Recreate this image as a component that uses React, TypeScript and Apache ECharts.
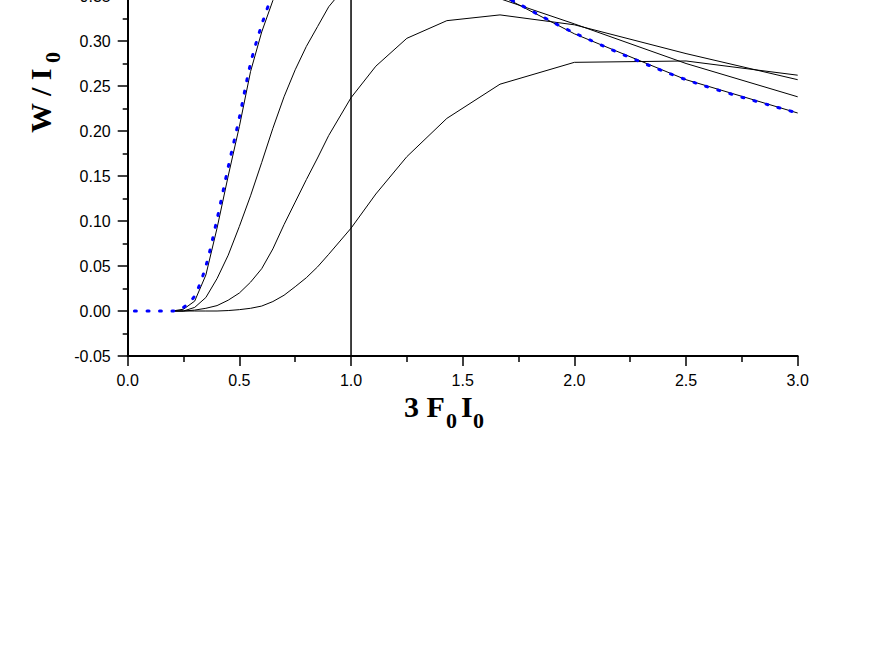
import React, { useEffect, useRef } from "react";
import * as echarts from "echarts";

// x positions of the sampled points
const xsBlue = [0.03, 0.1, 0.15, 0.2, 0.25, 0.3, 0.35, 0.4, 0.45, 0.5, 0.55, 0.6, 0.65, 0.7, 0.75, 0.8, 0.85, 0.9, 1.0, 1.111, 1.25, 1.429, 1.667, 2.0, 2.5, 3.0];
const xsBlack = [0.2, 0.25, 0.3, 0.35, 0.4, 0.45, 0.5, 0.55, 0.6, 0.65, 0.7, 0.75, 0.8, 0.85, 0.9, 1.0, 1.111, 1.25, 1.429, 1.667, 2.0, 2.5, 3.0];

// blue dotted curve
const blueY = [0, 0, 0, 0, 0.004, 0.017, 0.05, 0.102, 0.16, 0.215, 0.275, 0.318, 0.352, 0.375, 0.393, 0.407, 0.416, 0.421, 0.423, 0.416, 0.401, 0.379, 0.352, 0.309, 0.257, 0.22];
// black curves
const curveA = [0, 0.002, 0.011, 0.04, 0.092, 0.15, 0.205, 0.266, 0.31, 0.345, 0.37, 0.39, 0.405, 0.415, 0.42, 0.422, 0.415, 0.4, 0.378, 0.351, 0.308, 0.257, 0.22];
const curveB = [0, 0, 0.004, 0.015, 0.036, 0.062, 0.094, 0.128, 0.165, 0.203, 0.238, 0.268, 0.294, 0.316, 0.338, 0.368, 0.386, 0.392, 0.378, 0.347, 0.319, 0.275, 0.238];
const curveC = [0, 0, 0.001, 0.003, 0.006, 0.012, 0.02, 0.032, 0.047, 0.069, 0.096, 0.121, 0.146, 0.17, 0.195, 0.237, 0.272, 0.303, 0.3226, 0.329, 0.318, 0.286, 0.257];
const curveD = [0, 0, 0, 0, 0, 0.0005, 0.0015, 0.003, 0.0055, 0.0105, 0.0175, 0.027, 0.037, 0.049, 0.063, 0.092, 0.13, 0.1715, 0.214, 0.252, 0.2763, 0.2778, 0.262];

// vertical marker line
const vLineX = 1.0;
const vLineY = [-0.05, 0.45];

// axes
const xMin = 0, xMax = 3, xStep = 0.5;
const yMin = -0.05, yMax = 0.45, yStep = 0.05;

const pair = (xs: number[], ys: number[]) => xs.map((x, i) => [x, ys[i]]);

export default function App() {
  const ref = useRef<HTMLDivElement>(null);
  useEffect(() => {
    if (!ref.current) return;
    const chart = echarts.init(ref.current, undefined, { renderer: "svg" });
    const serif = "'Liberation Serif', 'Times New Roman', serif";
    const sans = "'Liberation Sans', Arial, sans-serif";
    const blackLine = (name: string, ys: number[]) => ({
      name,
      type: "line",
      data: pair(xsBlack, ys),
      showSymbol: false,
      symbol: "none",
      lineStyle: { color: "#000", width: 1 },
      z: 2,
    });
    const txt = (x: number, y: number, text: string, size: number, rotation = 0) => ({
      type: "text",
      x,
      y,
      rotation,
      style: { text, font: `bold ${size}px ${serif}`, fill: "#000", align: "left", verticalAlign: "middle" },
    });
    chart.setOption({
      animation: false,
      backgroundColor: "#fff",
      grid: { left: 127.7, right: 81.3, top: -94, bottom: 314, outerBoundsMode: "none" },
      xAxis: {
        type: "value",
        min: xMin,
        max: xMax,
        interval: xStep,
        axisLine: { show: true, onZero: false, lineStyle: { color: "#000", width: 2 } },
        axisTick: { show: true, inside: false, length: 10, lineStyle: { color: "#000", width: 1.5 } },
        minorTick: { show: true, splitNumber: 2, length: 6, lineStyle: { color: "#000", width: 1.5 } },
        splitLine: { show: false },
        axisLabel: {
          color: "#000",
          fontSize: 16,
          fontFamily: sans,
          margin: 16,
          formatter: (v: number) => v.toFixed(1),
        },
      },
      yAxis: {
        type: "value",
        min: yMin,
        max: yMax,
        interval: yStep,
        axisLine: { show: true, onZero: false, lineStyle: { color: "#000", width: 2 } },
        axisTick: { show: true, inside: false, length: 10, lineStyle: { color: "#000", width: 1.5 } },
        minorTick: { show: true, splitNumber: 2, length: 5, lineStyle: { color: "#000", width: 1.5 } },
        splitLine: { show: false },
        axisLabel: {
          color: "#000",
          fontSize: 16,
          fontFamily: sans,
          margin: 17,
          formatter: (v: number) => v.toFixed(2),
        },
      },
      series: [
        {
          name: "vline",
          type: "line",
          data: vLineY.map((y) => [vLineX, y]),
          showSymbol: false,
          symbol: "none",
          lineStyle: { color: "#000", width: 1.5 },
          z: 1,
        },
        blackLine("A", curveA),
        blackLine("B", curveB),
        blackLine("C", curveC),
        blackLine("D", curveD),
        {
          name: "blue",
          type: "line",
          data: pair(xsBlue, blueY),
          showSymbol: false,
          symbol: "none",
          smooth: 0.3,
          lineStyle: { color: "#0000ff", width: 3, type: [2, 10.5], cap: "round" },
          z: 3,
        },
      ],
      graphic: [
        txt(404, 406.5, "3 F", 30),
        txt(446, 420.5, "0", 22),
        txt(461, 406.5, "I", 30),
        txt(473, 420.5, "0", 22),
        txt(40.8, 133, "W / I", 30, Math.PI / 2),
        txt(52.5, 63, "0", 22, Math.PI / 2),
      ],
    });
    return () => chart.dispose();
  }, []);
  return (
    <div
      ref={ref}
      style={{ position: "fixed", left: 0, top: 0, width: 879, height: 670 }}
    />
  );
}
